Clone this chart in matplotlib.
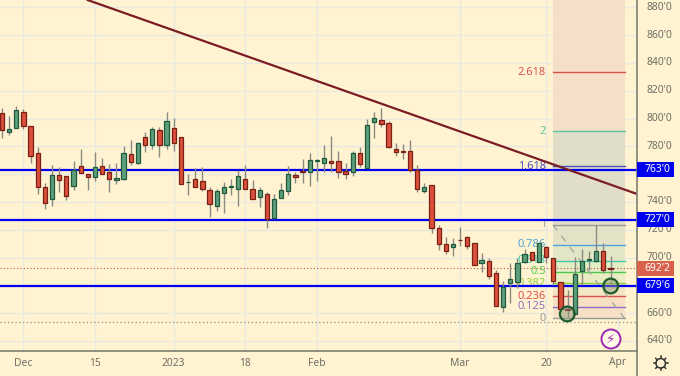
#!/usr/bin/env python3
"""Daily candles with horizontal levels, a trendline and a fib retracement."""
import matplotlib

matplotlib.use("Agg")
import matplotlib.pyplot as plt
import numpy as np
from matplotlib.patches import Ellipse, Rectangle

W, H = 680, 376
PLOT_W, PLOT_H = 637, 351

opens = [803.7, 790.0, 792.9, 804.4, 794.3, 774.9, 750.4, 742.3, 759.1, 758.3, 751.6, 766.0, 760.0, 757.6, 766.0, 761.2, 755.5, 756.2, 774.2, 767.7,
         786.4, 781.1, 791.7, 781.1, 792.9, 786.4, 754.0, 756.4, 755.2, 748.3, 737.2, 746.1, 750.9, 749.5, 756.4, 749.0, 743.2, 745.6, 728.3, 742.7,
         747.5, 759.3, 762.4, 761.7, 769.6, 768.2, 769.4, 769.4, 762.2, 761.2, 774.9, 764.6, 797.7, 798.7, 796.5, 778.3, 776.3, 776.8, 762.9, 748.0,
         751.9, 721.5, 710.0, 707.8, 712.8, 714.8, 710.7, 696.3, 697.7, 689.0, 664.6, 681.4, 682.6, 697.0, 703.7, 697.0, 707.8, 699.4, 682.1, 662.7,
         659.3, 690.5, 698.2, 697.7, 704.9, 692.2]
highs = [807.3, 801.8, 809.0, 806.8, 794.3, 779.7, 753.8, 766.3, 764.8, 758.3, 769.6, 777.8, 760.0, 775.9, 771.3, 767.2, 768.2, 780.2, 784.5, 783.3,
         790.0, 793.6, 793.6, 804.4, 800.1, 786.4, 760.0, 764.1, 764.8, 750.4, 749.5, 754.5, 756.2, 762.9, 766.5, 755.7, 750.4, 747.3, 745.6, 753.3,
         765.8, 761.7, 770.8, 774.9, 770.8, 780.9, 787.4, 776.8, 767.7, 776.6, 779.7, 799.4, 804.4, 807.3, 798.2, 782.6, 781.6, 784.5, 766.7, 753.3,
         751.9, 723.4, 714.5, 713.8, 721.7, 715.5, 710.7, 703.5, 699.4, 691.0, 683.1, 695.8, 699.4, 705.9, 703.7, 710.2, 708.3, 699.4, 682.1, 676.6,
         700.6, 705.9, 704.9, 723.4, 710.2, 701.1]
lows = [785.7, 788.1, 792.9, 792.4, 768.2, 745.4, 735.1, 737.2, 747.3, 741.3, 748.5, 760.5, 748.5, 754.7, 760.0, 747.3, 753.1, 755.7, 766.3, 767.2,
        775.9, 778.3, 772.5, 777.8, 776.3, 752.8, 744.7, 750.9, 748.0, 729.3, 733.1, 731.7, 744.9, 737.2, 749.2, 742.3, 736.5, 720.9, 727.9, 742.7,
        745.1, 753.3, 753.3, 751.4, 755.2, 761.7, 761.7, 756.9, 756.2, 758.6, 765.3, 764.6, 786.2, 794.1, 778.5, 773.2, 770.8, 761.7, 747.1, 746.6,
        717.4, 705.4, 702.5, 701.3, 708.3, 705.9, 694.6, 689.3, 684.5, 665.0, 661.0, 667.0, 677.8, 695.8, 698.2, 697.0, 695.8, 680.2, 663.2, 657.4,
        659.3, 680.2, 691.0, 697.0, 688.6, 680.2]
closes = [791.7, 792.4, 806.1, 794.8, 772.7, 750.4, 739.4, 759.1, 755.7, 744.2, 763.1, 760.5, 758.1, 765.3, 760.3, 756.2, 757.4, 774.9, 768.9, 782.1,
          780.7, 792.4, 780.7, 798.4, 782.1, 752.8, 754.5, 750.9, 749.5, 738.7, 747.5, 750.4, 751.6, 758.6, 749.2, 742.3, 748.5, 727.4, 741.8, 748.5,
          760.0, 758.1, 761.7, 770.1, 770.3, 771.5, 767.7, 761.7, 760.3, 774.9, 767.2, 795.3, 800.6, 796.3, 779.7, 775.9, 775.9, 762.7, 749.5, 750.4,
          721.1, 709.7, 704.9, 710.0, 712.4, 708.3, 694.6, 698.0, 686.7, 665.0, 678.8, 684.3, 695.8, 702.5, 698.2, 710.2, 700.1, 682.8, 663.2, 662.0,
          688.1, 697.7, 698.9, 704.4, 691.0, 691.5]

levels = [763.0, 727.0, 679.75]
level_labels = ["763'0", "727'0", "679'6"]
last_price = 692.25
last_label = "692'2"
low_dotted = 653.4

fib_ratios = ["2.618", "2", "1.618", "1", "0.786", "0.618", "0.5", "0.382", "0.236", "0.125", "0"]
fib_prices = [833.2, 791.0, 765.5, 723.4, 709.2, 697.7, 689.8, 681.3, 672.1, 664.6, 656.3]
fib_colors = ["#d9534f", "#5fc49a", "#4a4fb5", "#9a9a9a", "#4da3d9", "#3fc9a5", "#4cc94c", "#8fcf3a", "#e04f4f", "#8f6fc9", "#9a9a9a"]

trend_idx = [12.0, 88.7]
trend_price = [885.2, 745.7]

price_ticks = [640, 660, 680, 700, 720, 740, 760, 780, 800, 820, 840, 860, 880]
hidden_ticks = [680, 760]  # sit behind the level tags
date_idx = [3, 13, 24, 34, 44, 64, 76, 86]
date_labels = ["Dec", "15", "2023", "18", "Feb", "Mar", "20", "Apr"]

BG = "#fff3d1"
GRID = "#e9e8e2"
BLUE = "#0000f0"
TEXT = "#6f6f66"


def xpx(i):
    return 1.9 + 7.16 * i


def ypx(p):
    return 7.3 + (880 - p) * 1.39


plt.rcParams["font.family"] = ["Noto Sans", "DejaVu Sans"]
fig = plt.figure(figsize=(W / 100, H / 100), dpi=100, facecolor=BG)
ax = fig.add_axes([0, 1 - PLOT_H / H, PLOT_W / W, PLOT_H / H], facecolor=BG)
# same scale as the pixel mapping: index on x, price on y
ax.set_xlim((0 - 1.9) / 7.16, (PLOT_W - 1.9) / 7.16)
ax.set_ylim(880 - (PLOT_H - 7.3) / 1.39, 880 + 7.3 / 1.39)
ax.set_xticks([])
ax.set_yticks([])
for s in ["top", "left"]:
    ax.spines[s].set_visible(False)
for s in ["right", "bottom"]:
    ax.spines[s].set_color("#7f7f72")
    ax.spines[s].set_linewidth(1.2)

for p in price_ticks:
    ax.axhline(p, color=GRID, lw=1, zorder=0)
for d in date_idx:
    ax.axvline(d, color=GRID, lw=1, zorder=0)

# fib box
fx0, fx1 = (553 - 1.9) / 7.16, (624.5 - 1.9) / 7.16
ytop = ax.get_ylim()[1]
ax.add_patch(Rectangle((fx0, fib_prices[1]), fx1 - fx0, ytop - fib_prices[1], fc="#f5dfc8", ec="none", zorder=0.5))
ax.add_patch(Rectangle((fx0, fib_prices[3]), fx1 - fx0, fib_prices[1] - fib_prices[3], fc="#e0ddc8", ec="none", zorder=0.5))
band_cols = ["#e4e2c6", "#e2e6c6", "#e3eec6", "#eaedc2", "#f3e6c2", "#f6dfc2", "#f7e0c6"]
for k, col in enumerate(band_cols):
    hi, lo = fib_prices[3 + k], fib_prices[4 + k]
    ax.add_patch(Rectangle((fx0, lo), fx1 - fx0, hi - lo, fc=col, ec="none", zorder=0.5))
for ratio, p, col in zip(fib_ratios, fib_prices, fib_colors):
    ax.plot([fx0, fx1], [p, p], color=col, lw=1, zorder=1)
    ax.text(fx0 - 1.0, p, ratio, color=col, fontsize=8, ha="right", va="center", zorder=1.2)
ax.plot([fx0, fx1], [fib_prices[3], fib_prices[-1]], color="#a9a9a0", lw=1, ls=(0, (5, 5)), zorder=1)

ax.axhline(last_price, color="#c0503c", lw=0.8, ls=(0, (1, 2)), zorder=1)
ax.axhline(low_dotted, color="#8f8f86", lw=0.9, ls=(0, (1, 2)), zorder=1)

for p in levels:
    ax.axhline(p, color=BLUE, lw=1.6, zorder=1.5)
ax.plot(trend_idx, trend_price, color="#7b1c24", lw=1.6, zorder=1.6)

# candles
for i, (o, h, l, c) in enumerate(zip(opens, highs, lows, closes)):
    up = c >= o
    face, edge = ("#5f9e7c", "#1f5a3c") if up else ("#d9503c", "#7a1f14")
    ax.plot([i, i], [l, h], color="#8a8a82", lw=1, zorder=2, solid_capstyle="butt")
    ax.add_patch(Rectangle((i - 0.3, min(o, c)), 0.6, max(abs(c - o), 0.5), fc=face, ec=edge, lw=0.9, zorder=3))

# circled lows
for cx, cy in [(78.96, 659.4), (85.03, 679.5)]:
    ax.add_patch(Ellipse((cx, cy), 2.05, 10.6, fc="#8a9a78", alpha=0.45, ec="none", zorder=5))
    ax.add_patch(Ellipse((cx, cy), 2.05, 10.6, fc="none", ec="#1f5a2c", lw=1.6, zorder=5))

# overlay in pixel coordinates for axis text and tags
ov = fig.add_axes([0, 0, 1, 1], facecolor="none")
ov.set_xlim(0, W)
ov.set_ylim(H, 0)
ov.axis("off")
for p in price_ticks:
    if p not in hidden_ticks:
        ov.text(659, ypx(p), f"{p}'0", color=TEXT, fontsize=7.4, ha="center", va="center")
for d, lab in zip(date_idx, date_labels):
    ov.text(xpx(d), 363, lab, color=TEXT, fontsize=7.4, ha="center", va="center")
for p, lab in zip(levels, level_labels):
    ov.add_patch(Rectangle((637, ypx(p) - 7.5), 37, 15, fc=BLUE, ec="none", zorder=6))
    ov.text(657, ypx(p), lab, color="white", fontsize=7.4, fontweight="bold", ha="center", va="center", zorder=7)
ov.add_patch(Rectangle((637, ypx(last_price) - 7.5), 37, 15, fc="#d9604a", ec="none", zorder=6))
ov.text(657, ypx(last_price), last_label, color="white", fontsize=7.4, fontweight="bold", ha="center", va="center", zorder=7)
ov.plot([637, 637], [351, 376], color="#7f7f72", lw=1.2)

# settings gear: ring with eight studs
ov.add_patch(Ellipse((660.7, 363.3), 9.5, 9.5, fc="none", ec="#333333", lw=1.1))
for a in np.arange(8) * np.pi / 4:
    ov.plot([660.7 + 5 * np.cos(a), 660.7 + 7 * np.cos(a)], [363.3 + 5 * np.sin(a), 363.3 + 7 * np.sin(a)], color="#333333", lw=1.1)

ov.add_patch(Ellipse((611, 339), 19, 19, fc="#fff8e6", ec="#9c27b0", lw=1.4))
ov.text(611, 339, "\u26a1", color="#9c27b0", fontsize=9.5, ha="center", va="center", family="DejaVu Sans")

fig.savefig("out.png", dpi=100, facecolor=BG)
